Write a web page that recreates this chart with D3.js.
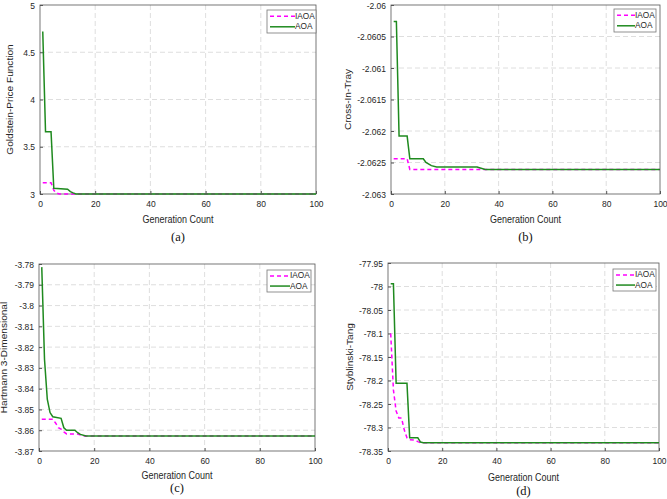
<!DOCTYPE html>
<html><head><meta charset="utf-8">
<script src="https://cdn.jsdelivr.net/npm/d3@7"></script>
<style>
body{margin:0;background:#fff;}
svg{display:block;font-family:"Liberation Sans",Arial,sans-serif;}
</style></head>
<body><svg id="c" width="667" height="499"></svg>
<script>
// ---- data ----
const seriesNames = ["IAOA", "AOA"];
const xTicks = [0, 20, 40, 60, 80, 100];

// (a) Goldstein-Price
const gpIaoaGen = [1, 4, 5, 6, 7, 100];
const gpIaoaVal = [3.12, 3.12, 3.04, 3.01, 3.0, 3.0];
const gpAoaGen = [1, 2, 4, 5, 10, 11, 12, 13, 100];
const gpAoaVal = [4.72, 3.66, 3.66, 3.06, 3.05, 3.025, 3.012, 3.0, 3.0];
const gpTicks = [3, 3.5, 4, 4.5, 5];

// (b) Cross-In-Tray
const citIaoaGen = [1, 6, 7, 100];
const citIaoaVal = [-2.06244, -2.06244, -2.06261, -2.06261];
const citAoaGen = [1, 2, 3, 6, 7, 12, 13, 15, 17, 32, 35, 100];
const citAoaVal = [-2.06026, -2.06026, -2.06208, -2.06208, -2.06244, -2.06244, -2.0625, -2.06255, -2.06257, -2.06257, -2.06261, -2.06261];
const citTicks = [-2.063, -2.0625, -2.062, -2.0615, -2.061, -2.0605, -2.06];

// (c) Hartmann 3-Dimensional
const h3IaoaGen = [1, 5, 6, 7, 8, 9, 10, 14, 16, 100];
const h3IaoaVal = [-3.8547, -3.8547, -3.8565, -3.8588, -3.8595, -3.8608, -3.8618, -3.8618, -3.8628, -3.8628];
const h3AoaGen = [1, 2, 3, 4, 5, 8, 9, 10, 13, 14, 15, 17, 100];
const h3AoaVal = [-3.7815, -3.826, -3.845, -3.8515, -3.8535, -3.8543, -3.8588, -3.86, -3.86, -3.8612, -3.862, -3.8628, -3.8628];
const h3Ticks = [-3.87, -3.86, -3.85, -3.84, -3.83, -3.82, -3.81, -3.8, -3.79, -3.78];

// (d) Styblinski-Tang
const stIaoaGen = [1, 2, 3, 4, 5, 6, 7, 8, 10, 11, 12, 100];
const stIaoaVal = [-78.10, -78.22, -78.265, -78.28, -78.28, -78.305, -78.322, -78.326, -78.327, -78.33, -78.3323, -78.3323];
const stAoaGen = [1, 2, 3, 7, 8, 11, 12, 13, 100];
const stAoaVal = [-77.994, -77.994, -78.206, -78.206, -78.322, -78.322, -78.331, -78.3323, -78.3323];
const stTicks = [-78.35, -78.3, -78.25, -78.2, -78.15, -78.1, -78.05, -78, -77.95];

const zip = (g, v) => g.map((x, i) => [x, v[i]]);

const panels = [
  {title:"Goldstein-Price Function", cap:"(a)", ticks:gpTicks, dom:[3,5], dec:1,
   iaoa:zip(gpIaoaGen,gpIaoaVal), aoa:zip(gpAoaGen,gpAoaVal),
   L:40,R:316,T:5,B:194, ylabX:11, xlabY:220, capY:238, leg:[267,10,49,23]},
  {title:"Cross-In-Tray", cap:"(b)", ticks:citTicks, dom:[-2.063,-2.06], dec:4,
   iaoa:zip(citIaoaGen,citIaoaVal), aoa:zip(citAoaGen,citAoaVal),
   L:391,R:660,T:5,B:194, ylabX:349, xlabY:220, capY:238, leg:[614,9,42,23]},
  {title:"Hartmann 3-Dimensional", cap:"(c)", ticks:h3Ticks, dom:[-3.87,-3.78], dec:2,
   iaoa:zip(h3IaoaGen,h3IaoaVal), aoa:zip(h3AoaGen,h3AoaVal),
   L:39,R:315,T:264,B:451, ylabX:5, xlabY:476, capY:489, leg:[267,270,44,22]},
  {title:"Styblinski-Tang", cap:"(d)", ticks:stTicks, dom:[-78.35,-77.95], dec:2,
   iaoa:zip(stIaoaGen,stIaoaVal), aoa:zip(stAoaGen,stAoaVal),
   L:388,R:659,T:263,B:451, ylabX:351, xlabY:478, capY:492, leg:[613,269,43,22]}
];

const svg = d3.select("#c");
const GREEN = "#1f8a1f", MAG = "#ff00ff";
const SY = 1.12; // the reference figure is slightly stretched vertically
const TXT = "#262626";

panels.forEach(p => {
  const x = d3.scaleLinear().domain([0,100]).range([p.L,p.R]);
  const y = d3.scaleLinear().domain(p.dom).range([p.B,p.T]);
  const g = svg.append("g");
  // grid
  g.append("g").selectAll("line").data(xTicks.slice(1,-1)).join("line")
    .attr("x1",d=>x(d)).attr("x2",d=>x(d)).attr("y1",p.T).attr("y2",p.B)
    .attr("stroke","#d6d6d6").attr("stroke-width",0.8).attr("stroke-dasharray","5,3");
  g.append("g").selectAll("line").data(p.ticks.slice(1,-1)).join("line")
    .attr("x1",p.L).attr("x2",p.R).attr("y1",d=>y(d)).attr("y2",d=>y(d))
    .attr("stroke","#d6d6d6").attr("stroke-width",0.8).attr("stroke-dasharray","5,3");
  // axes
  const fmt = d => String(+d.toFixed(p.dec));
  const ax = g.append("g").attr("transform",`translate(0,${p.B})`)
    .call(d3.axisBottom(x).tickValues(xTicks).tickSize(-3).tickPadding(6).tickFormat(d=>d));
  const ay = g.append("g").attr("transform",`translate(${p.L},0)`)
    .call(d3.axisLeft(y).tickValues(p.ticks).tickSize(-3).tickPadding(5).tickFormat(fmt));
  [ax,ay].forEach(a=>{
    a.select(".domain").remove();
    a.selectAll("line").attr("stroke","#555");
    a.selectAll("text").attr("fill",TXT).attr("font-size",8.5)
      .attr("font-family","'Liberation Sans',Arial,sans-serif")
      .attr("transform",`scale(1,${SY})`);
  });
  ax.selectAll("text").attr("y",5.4);
  // frame
  g.append("rect").attr("x",p.L).attr("y",p.T).attr("width",p.R-p.L).attr("height",p.B-p.T)
    .attr("fill","none").attr("stroke","#555").attr("stroke-width",0.8);
  // lines
  const line = d3.line().x(d=>x(d[0])).y(d=>y(d[1]));
  g.append("path").datum(p.iaoa).attr("d",line).attr("fill","none")
    .attr("stroke",MAG).attr("stroke-width",1.5).attr("stroke-dasharray","4,3");
  g.append("path").datum(p.aoa).attr("d",line).attr("fill","none")
    .attr("stroke",GREEN).attr("stroke-width",1.5);
  // labels
  g.append("text").attr("transform",`translate(${(p.L+p.R)/2},${p.xlabY}) scale(1,${SY})`)
    .attr("text-anchor","middle").attr("dominant-baseline","middle")
    .attr("font-size",9).attr("fill",TXT).text("Generation Count");
  g.append("text").attr("transform",`translate(${p.ylabX},${(p.T+p.B)/2}) rotate(-90) scale(${SY},1)`)
    .attr("text-anchor","middle").attr("dominant-baseline","middle")
    .attr("font-size",9).attr("fill",TXT).text(p.title);
  g.append("text").attr("x",(p.L+p.R)/2).attr("y",p.capY).attr("text-anchor","middle")
    .attr("dominant-baseline","middle").attr("font-size",12.5)
    .attr("font-family","'Liberation Serif','Times New Roman',serif").attr("fill","#111").text(p.cap);
  // legend
  const [lx,ly,lw,lh] = p.leg;
  const lg = g.append("g");
  lg.append("rect").attr("x",lx).attr("y",ly).attr("width",lw).attr("height",lh)
    .attr("fill","#fff").attr("stroke","#777").attr("stroke-width",0.8);
  seriesNames.forEach((n,i)=>{
    const yy = ly + lh*(i===0?0.27:0.73);
    lg.append("line").attr("x1",lx+3).attr("x2",lx+lw-21).attr("y1",yy).attr("y2",yy)
      .attr("stroke",i===0?MAG:GREEN).attr("stroke-width",1.5)
      .attr("stroke-dasharray",i===0?"4,3":null);
    lg.append("text").attr("transform",`translate(${lx+lw-21},${yy}) scale(1,${SY})`)
      .attr("dominant-baseline","middle")
      .attr("font-size",8.3).attr("fill",TXT).text(n);
  });
});
</script></body></html>
